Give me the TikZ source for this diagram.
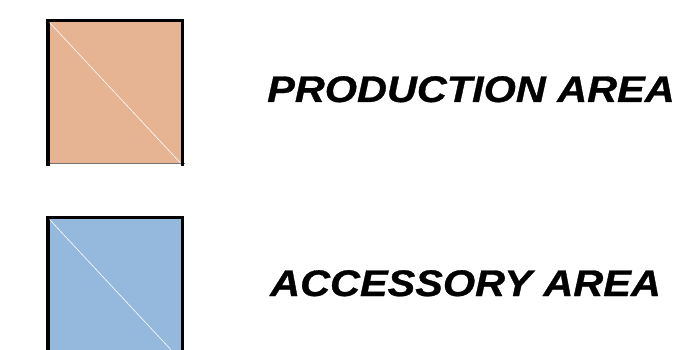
\documentclass[tikz,border=0pt]{standalone}
\usepackage{fontspec}
\setmainfont{Liberation Sans}
\newfontfamily\labelfont[FakeBold=0.8]{Liberation Sans}
\definecolor{prodfill}{HTML}{E6B393}
\definecolor{accfill}{HTML}{95B8DD}
\begin{document}
\begin{tikzpicture}[x=1pt,y=-1pt,
  areabox/.style={draw=none,minimum width=138pt,minimum height=145pt,inner sep=0pt,outer sep=0pt},
  frame/.style={line width=3.5pt,black,line cap=rect},
  lowedge/.style={line width=1pt,black!55},
  diag/.style={white,line width=0.6pt},
  label/.style={anchor=base west,inner sep=0pt,xscale=1.12,font=\labelfont\fontsize{37}{42}\selectfont\bfseries\itshape}]
\useasboundingbox (0,0) rectangle (678,350);
\clip (0,0) rectangle (678,350);
\node[areabox,fill=prodfill] (prod) at (115,91.5) {};
\node[areabox,fill=accfill] (acc) at (115,288.5) {};
% frames
\draw[lowedge] ([xshift=0pt,yshift=0.5pt]prod.south west) -- ([xshift=1pt,yshift=0.5pt]prod.south east);
\draw[frame] ([xshift=1.75pt]prod.south west) -- ([xshift=1.75pt,yshift=-1.75pt]prod.north west) -- ([xshift=-1.75pt,yshift=-1.75pt]prod.north east) -- ([xshift=-1.75pt]prod.south east);
\draw[frame] ([xshift=1.75pt]acc.south west) -- ([xshift=1.75pt,yshift=-1.75pt]acc.north west) -- ([xshift=-1.75pt,yshift=-1.75pt]acc.north east) -- ([xshift=-1.75pt]acc.south east);
% diagonals
\draw[diag] ([xshift=3.5pt,yshift=-3.5pt]prod.north west) -- ([xshift=-3.5pt,yshift=1pt]prod.south east);
\draw[diag] ([xshift=3.5pt,yshift=-3.5pt]acc.north west) -- ([xshift=-3.5pt,yshift=1pt]acc.south east);
% labels
\node[label] (prodlabel) at (267,102) {PRODUCTION AREA};
\node[label] (acclabel) at (270,296) {ACCESSORY AREA};
\end{tikzpicture}
\end{document}
